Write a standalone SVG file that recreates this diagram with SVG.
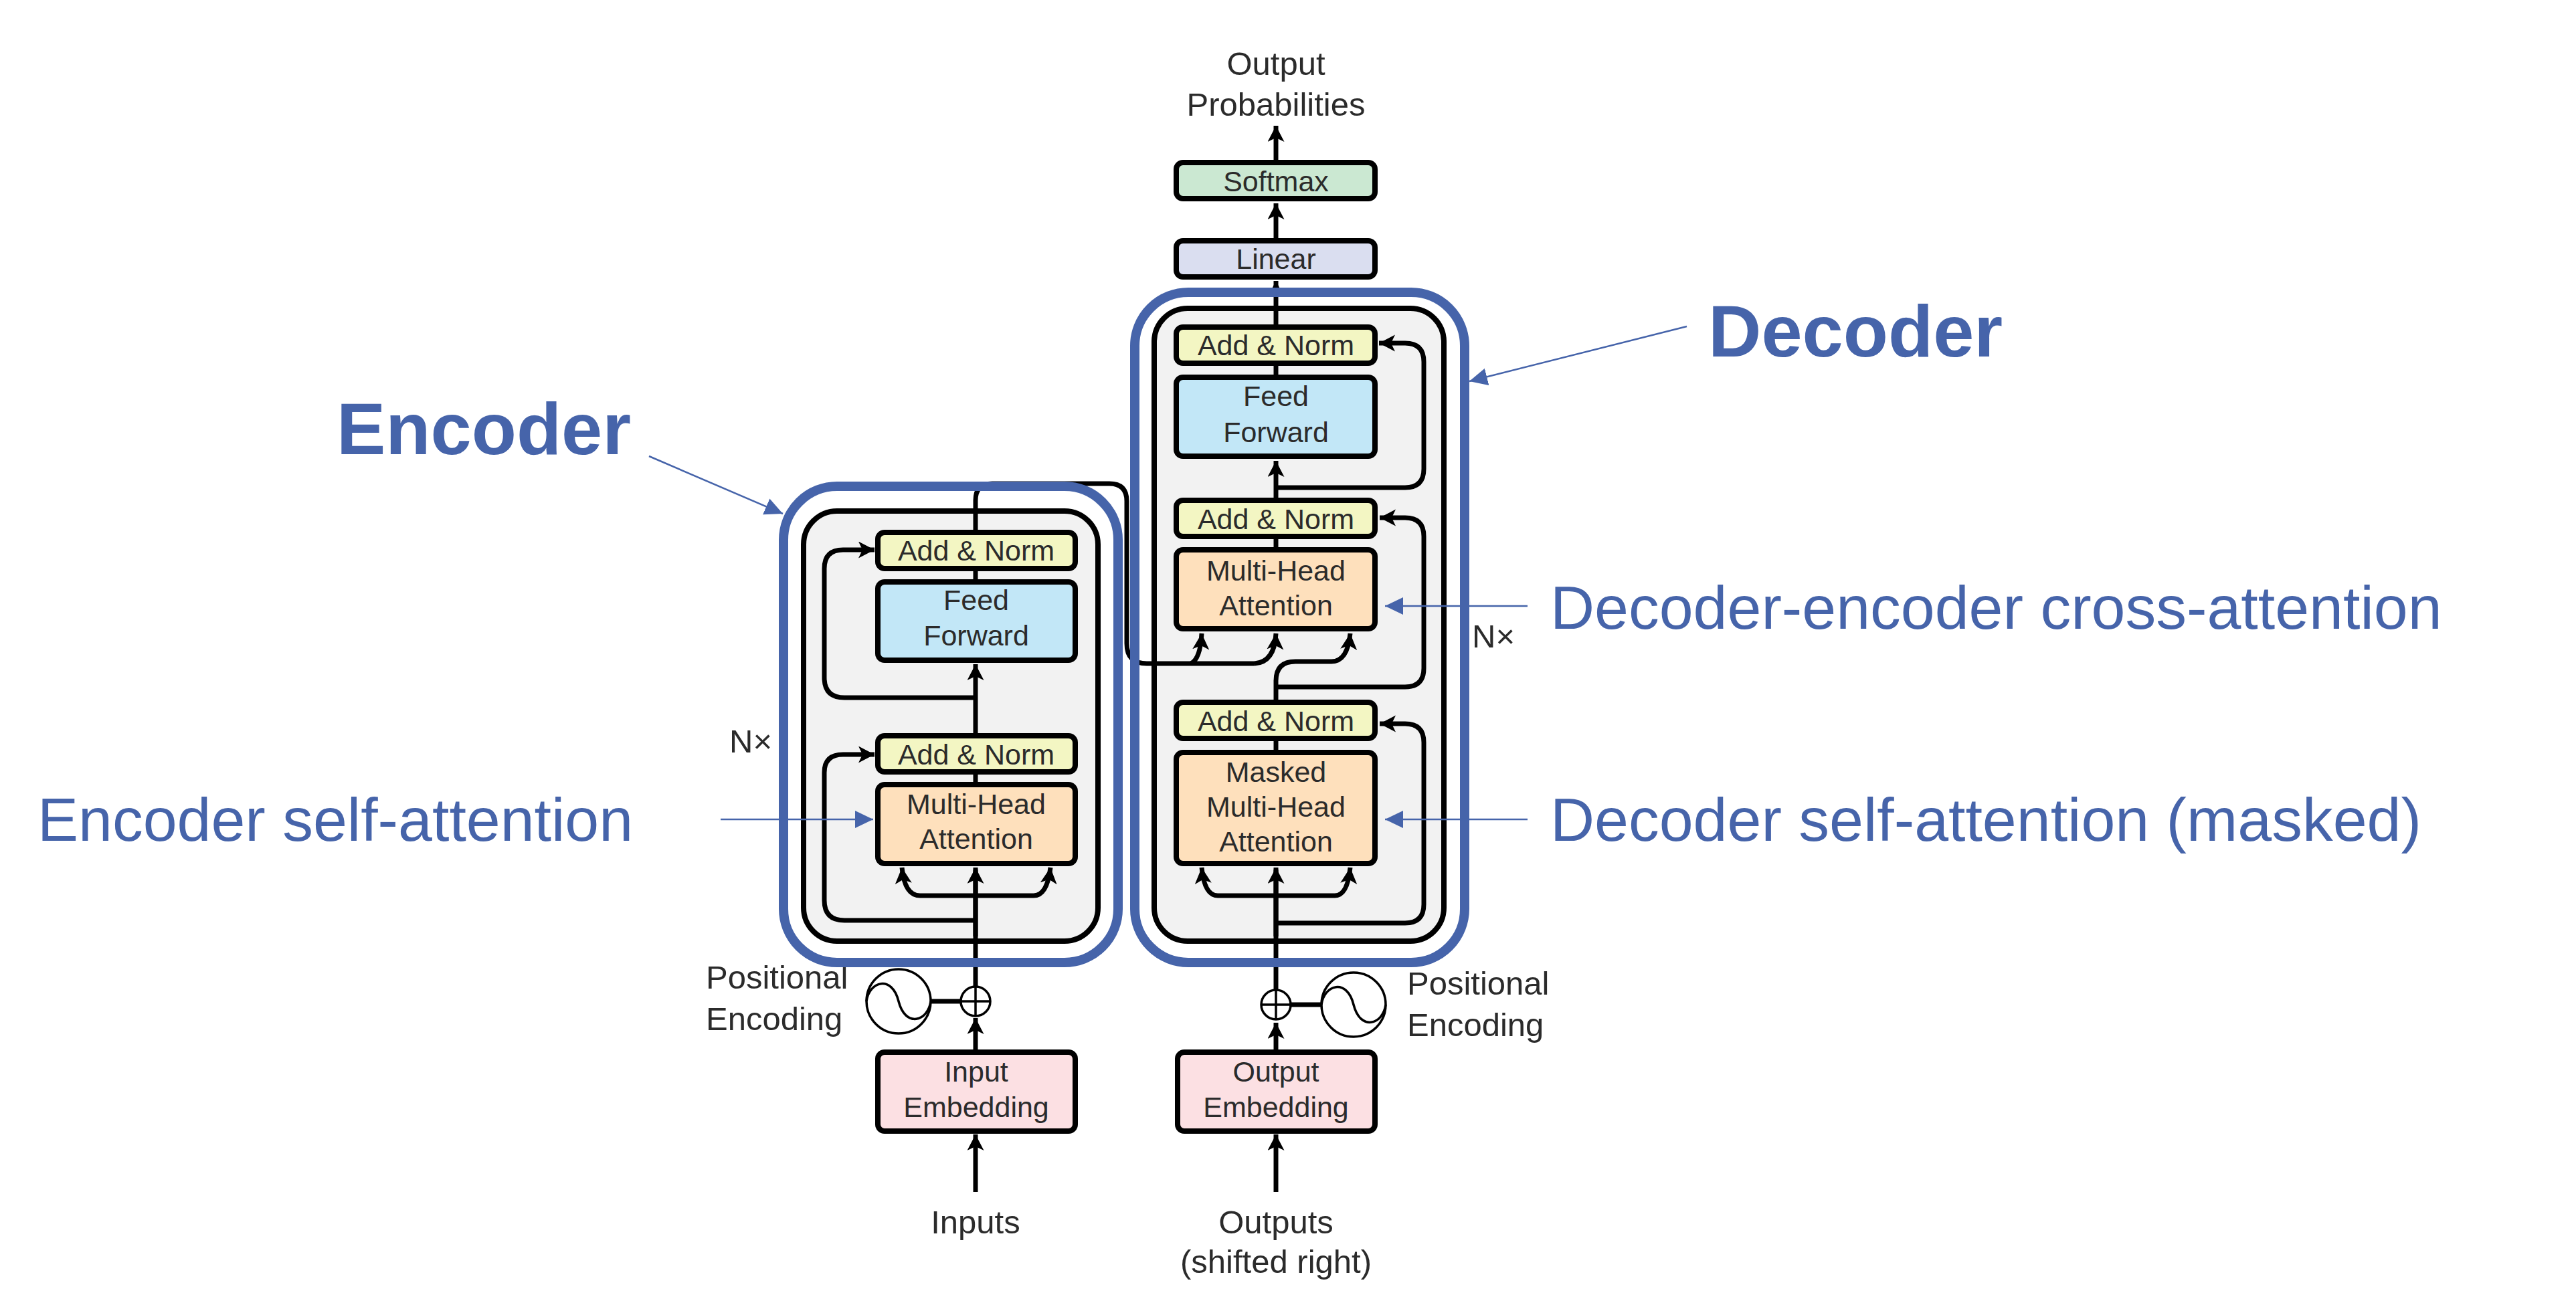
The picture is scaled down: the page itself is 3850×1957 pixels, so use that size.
<svg xmlns="http://www.w3.org/2000/svg" width="3850" height="1957" viewBox="0 0 3850 1957">
<defs>
<style>
text{font-family:"Liberation Sans",Arial,sans-serif;fill:#2b2b2b;text-anchor:middle}
.t{font-size:43px}
.o{font-size:49px}
.s{text-anchor:start}
.b{fill:#4664AA;font-size:91.5px;text-anchor:start}
.bb{fill:#4664AA;font-size:110px;font-weight:700;text-anchor:start}
.n{stroke:#000;stroke-width:8}
.an{fill:#F3F6C3}.ff{fill:#C2E7F7}.mh{fill:#FEE0BC}.em{fill:#FCE0E3}.sm{fill:#CBE8D2}.li{fill:#DADEF0}
.g{fill:#F2F2F2;stroke:#000;stroke-width:8}
.c{fill:none;stroke:#000;stroke-width:7}
.a{marker-end:url(#h)}
.bl{fill:none;stroke:#4664AA;stroke-width:2.5;marker-end:url(#bh)}
.bx{fill:none;stroke:#4664AA;stroke-width:14}
.r{fill:none;stroke:#000;stroke-width:3.5}
</style>
<marker id="h" markerUnits="userSpaceOnUse" markerWidth="28" markerHeight="28" refX="24" refY="12.5" orient="auto">
<path d="M0,0 L24,12.5 L0,25 L6,12.5 Z" fill="#000"/>
</marker>
<marker id="bh" markerUnits="userSpaceOnUse" markerWidth="30" markerHeight="30" refX="27" refY="13" orient="auto">
<path d="M0,0 L27,13 L0,26 Z" fill="#4664AA"/>
</marker>
</defs>
<rect width="3850" height="1957" fill="#fff"/>
<g id="encoder-stack"><rect class="g" x="1201" y="764" width="440" height="643" rx="50"/></g>
<g id="decoder-stack"><rect class="g" x="1725" y="461" width="433" height="946" rx="50"/></g>
<g id="connectors">
<path class="c a" d="M1458,1782V1696"/>
<path class="c a" d="M1458,1569V1522"/>
<path class="c" d="M1458,1474V1300"/>
<path class="c a" d="M1458,1400V1297"/>
<path class="c a" d="M1458,1339H1375Q1352,1339 1348,1297"/>
<path class="c a" d="M1458,1339H1545Q1565,1339 1570,1297"/>
<path class="c a" d="M1458,1376H1262Q1232,1376 1232,1346V1155Q1232,1128 1260,1128H1307"/>
<path class="c" d="M1458,1169V1158"/>
<path class="c a" d="M1458,1097V993"/>
<path class="c a" d="M1458,1043H1262Q1232,1043 1232,1013V850Q1232,822 1260,822H1307"/>
<path class="c" d="M1458,866V853"/>
<path class="c" d="M1458,792V748Q1458,723 1483,723H1658Q1684,723 1684,749V962Q1684,992 1714,992H1875"/>
<path class="c a" d="M1780,992Q1794,985 1796,947"/>
<path class="c a" d="M1875,992Q1905,990 1907,947"/>
<path class="c a" d="M1907,1782V1696"/>
<path class="c a" d="M1907,1569V1529"/>
<path class="c" d="M1907,1480V1300"/>
<path class="c a" d="M1907,1400V1297"/>
<path class="c a" d="M1907,1339H1820Q1800,1339 1796,1297"/>
<path class="c a" d="M1907,1339H1995Q2014,1339 2018,1297"/>
<path class="c a" d="M1907,1380H2100Q2128,1380 2128,1352V1110Q2128,1082 2100,1082H2062"/>
<path class="c" d="M1907,1121V1107"/>
<path class="c a" d="M1907,1046V1018Q1907,989 1936,989H1990Q2014,989 2018,947"/>
<path class="c a" d="M1907,1027H2100Q2128,1027 2128,999V802Q2128,774 2100,774H2062"/>
<path class="c" d="M1907,818V805"/>
<path class="c a" d="M1907,744V689"/>
<path class="c a" d="M1907,729H2100Q2128,729 2128,701V541Q2128,513 2100,513H2061"/>
<path class="c" d="M1907,560V546"/>
<path class="c a" d="M1907,485V420"/>
<path class="c a" d="M1907,356V304"/>
<path class="c a" d="M1907,239V188"/>
<path class="c" d="M1391,1497H1435"/>
<path class="c" d="M1930,1502H1975"/>
</g>
<g id="enc-addnorm-2"><rect class="n an" x="1312" y="796" width="295" height="54" rx="10"/><text class="t" x="1459" y="838">Add &amp; Norm</text></g>
<g id="enc-ff"><rect class="n ff" x="1312" y="870" width="295" height="117" rx="10"/><text class="t" x="1459" y="912">Feed</text><text class="t" x="1459" y="965">Forward</text></g>
<g id="enc-addnorm-1"><rect class="n an" x="1312" y="1100" width="295" height="54" rx="10"/><text class="t" x="1459" y="1143">Add &amp; Norm</text></g>
<g id="enc-mha"><rect class="n mh" x="1312" y="1173" width="295" height="118" rx="10"/><text class="t" x="1459" y="1217">Multi-Head</text><text class="t" x="1459" y="1269">Attention</text></g>
<g id="input-embedding"><rect class="n em" x="1312" y="1573" width="295" height="118" rx="10"/><text class="t" x="1459" y="1617">Input</text><text class="t" x="1459" y="1670">Embedding</text></g>
<g id="output-embedding"><rect class="n em" x="1760" y="1573" width="295" height="118" rx="10"/><text class="t" x="1907" y="1617">Output</text><text class="t" x="1907" y="1670">Embedding</text></g>
<g id="softmax"><rect class="n sm" x="1758" y="243" width="297" height="54" rx="10"/><text class="t" x="1907" y="286">Softmax</text></g>
<g id="linear"><rect class="n li" x="1758" y="360" width="297" height="54" rx="10"/><text class="t" x="1907" y="402">Linear</text></g>
<g id="dec-addnorm-3"><rect class="n an" x="1758" y="489" width="297" height="54" rx="10"/><text class="t" x="1907" y="531">Add &amp; Norm</text></g>
<g id="dec-ff"><rect class="n ff" x="1758" y="564" width="297" height="118" rx="10"/><text class="t" x="1907" y="607">Feed</text><text class="t" x="1907" y="661">Forward</text></g>
<g id="dec-addnorm-2"><rect class="n an" x="1758" y="748" width="297" height="54" rx="10"/><text class="t" x="1907" y="791">Add &amp; Norm</text></g>
<g id="dec-mha"><rect class="n mh" x="1758" y="822" width="297" height="118" rx="10"/><text class="t" x="1907" y="868">Multi-Head</text><text class="t" x="1907" y="920">Attention</text></g>
<g id="dec-addnorm-1"><rect class="n an" x="1758" y="1050" width="297" height="54" rx="10"/><text class="t" x="1907" y="1093">Add &amp; Norm</text></g>
<g id="dec-masked"><rect class="n mh" x="1758" y="1125" width="297" height="166" rx="10"/><text class="t" x="1907" y="1169">Masked</text><text class="t" x="1907" y="1221">Multi-Head</text><text class="t" x="1907" y="1273">Attention</text></g>
<g id="enc-plus"><circle class="r" cx="1458" cy="1497" r="22"/><path class="r" d="M1436,1497H1480M1458,1475V1519"/></g>
<g id="dec-plus"><circle class="r" cx="1907" cy="1502" r="22"/><path class="r" d="M1885,1502H1929M1907,1480V1524"/></g>
<g id="enc-pe"><circle class="r" cx="1343" cy="1497" r="48"/><path class="r" d="M1295,1497C1299,1467 1333,1457 1343,1497C1353,1537 1387,1527 1391,1497"/><text class="o s" x="1055" y="1478">Positional</text><text class="o s" x="1055" y="1540">Encoding</text></g>
<g id="dec-pe"><circle class="r" cx="2023" cy="1502" r="48"/><path class="r" d="M1975,1502C1979,1472 2013,1462 2023,1502C2033,1542 2067,1532 2071,1502"/><text class="o s" x="2103" y="1487">Positional</text><text class="o s" x="2103" y="1549">Encoding</text></g>
<g id="labels">
<text class="o" x="1907" y="112">Output</text><text class="o" x="1907" y="173">Probabilities</text>
<text class="o" x="1458" y="1844">Inputs</text>
<text class="o" x="1907" y="1844">Outputs</text><text class="o" x="1907" y="1903">(shifted right)</text>
<text class="o s" x="1090" y="1125">N×</text><text class="o s" x="2200" y="968">N×</text>
</g>
<g id="encoder-box"><rect class="bx" x="1171" y="727" width="500" height="712" rx="80"/></g>
<g id="decoder-box"><rect class="bx" x="1696" y="437" width="493" height="1002" rx="80"/></g>
<g id="callouts">
<path class="bl" d="M970,682L1170,768"/>
<path class="bl" d="M2521,488L2196,570"/>
<path class="bl" d="M2283,906H2070"/>
<path class="bl" d="M2283,1225H2070"/>
<path class="bl" d="M1077,1225H1305"/>
<text class="bb" x="503" y="679">Encoder</text>
<text class="bb" x="2553" y="533">Decoder</text>
<text class="b" x="56" y="1257">Encoder self-attention</text>
<text class="b" x="2317" y="940">Decoder-encoder cross-attention</text>
<text class="b" x="2317" y="1257">Decoder self-attention (masked)</text>
</g>
</svg>
